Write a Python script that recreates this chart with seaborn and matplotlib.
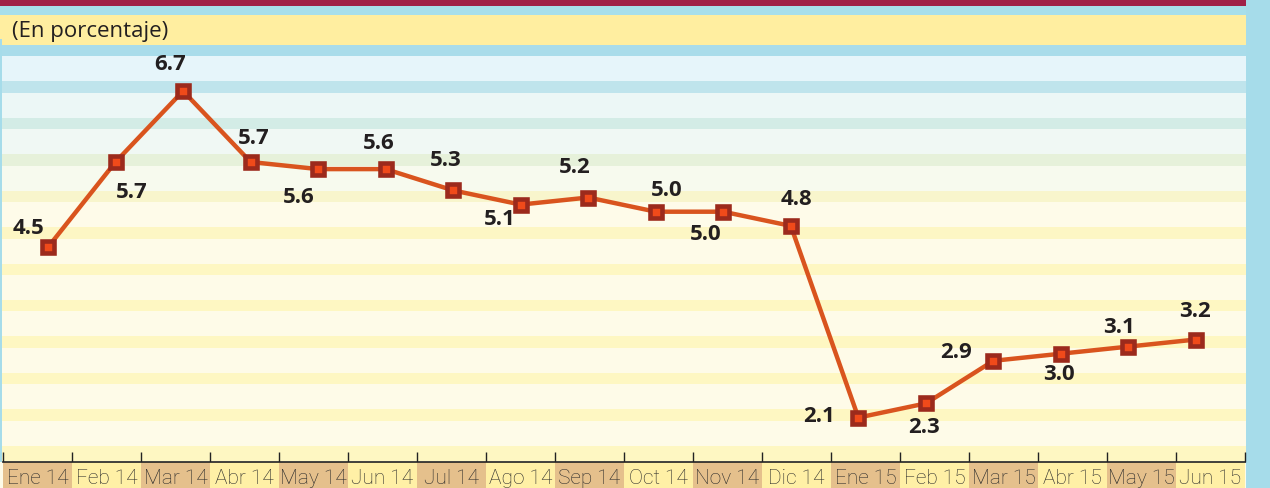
import matplotlib
matplotlib.use("Agg")
import matplotlib.pyplot as plt
import numpy as np
import pandas as pd
import seaborn as sns

# data
months = ["Ene 14", "Feb 14", "Mar 14", "Abr 14", "May 14", "Jun 14",
          "Jul 14", "Ago 14", "Sep 14", "Oct 14", "Nov 14", "Dic 14",
          "Ene 15", "Feb 15", "Mar 15", "Abr 15", "May 15", "Jun 15"]
values = [4.5, 5.7, 6.7, 5.7, 5.6, 5.6, 5.3, 5.1, 5.2, 5.0, 5.0, 4.8,
          2.1, 2.3, 2.9, 3.0, 3.1, 3.2]
subtitle = "(En porcentaje)"

# label offsets from each point, in pixels (dx right, dy down)
label_offsets = [(-20, -20), (16, 30), (-13, -27), (3, -24), (-19, 27), (-7, -27),
                 (-7, -31), (-21, 14), (-13, -31), (11, -22), (-18, 22), (6, -27),
                 (-39, -2), (-2, 23), (-37, -9), (-2, 20), (-9, -20), (-1, -29)]

W, H = 1270, 489
LINE = "#d9541e"
MFACE = "#f04a1a"
MEDGE = "#9c2a1c"
TXT = "#231f20"

sns.set_style("white")
fig = plt.figure(figsize=(W / 100, H / 100), dpi=100)

# ---- background decoration (pixel coordinates) ----
bg = fig.add_axes([0, 0, 1, 1])
bg.set_xlim(0, W)
bg.set_ylim(H, 0)
bg.axis("off")

def rect(x0, y0, x1, y1, c):
    bg.add_patch(plt.Rectangle((x0, y0), x1 - x0, y1 - y0, color=c, lw=0))

rect(0, 0, W, H, "#fefbe8")
rect(0, 0, 1246, 7, "#a02148")
rect(0, 7, 1246, 16, "#a8dfeb")
rect(0, 16, 1246, 46, "#ffeea0")
bg.text(12, 31, subtitle, fontsize=16, color=TXT, va="center", ha="left",
        fontfamily="Open Sans")

band_cols = ["#a9dcea", "#bfe4ec", "#d3ece6", "#e6f1da", "#f8f5cc", "#fdf6c4",
             "#fef7c2", "#fef7c2", "#fef7c2", "#fef7c2", "#fef7c2", "#fef7c2"]
light_cols = ["#e6f5fa", "#ecf7f6", "#f0f8f4", "#f7faee", "#fefbe9", "#fefbe8",
              "#fefbe8", "#fefbe8", "#fefbe8", "#fefbe8", "#fefbe8", "#fefbe8"]
for k in range(12):
    top = 45.8 + 36.45 * k
    bot = 462 if k == 11 else top + 11.5
    rect(0, top, 1246, bot, band_cols[k])
    if k < 11:
        rect(0, bot, 1246, 45.8 + 36.45 * (k + 1), light_cols[k])
rect(0, 40, 1.5, 463, "#a6dcea")
rect(1246, 0, W, H, "#a6dcea")

# ---- line chart ----
px_per = (1196 - 48) / 17.0
ax = fig.add_axes([0, 0, 1246 / W, 1])
ax.patch.set_alpha(0)
ax.set_xlim(-48 / px_per, (1246 - 48) / px_per)
ax.set_ylim(5.7 - (489 - 163) / 71.0, 5.7 + 163 / 71.0)
ax.axis("off")

df = pd.DataFrame({"idx": np.arange(len(months)), "valor": values})
sns.lineplot(data=df, x="idx", y="valor", ax=ax, color=LINE, linewidth=3.2,
             marker="s", markersize=8.6, markeredgewidth=3.3,
             markerfacecolor=MFACE, markeredgecolor=MEDGE, zorder=3)

for i, v in enumerate(values):
    dx, dy = label_offsets[i]
    ax.annotate(f"{v:.1f}", (i, v), xytext=(dx * 0.72, -dy * 0.72),
                textcoords="offset points", ha="center", va="center",
                fontsize=16, fontweight="bold", color=TXT,
                fontfamily="Open Sans")

# ---- month strip ----
st = fig.add_axes([3 / W, 0, 1242 / W, 26 / H])
cells = ["#e5c08c" if i % 2 == 0 else "#fff0a6" for i in range(len(months))]
st.bar(np.arange(len(months)), 1, width=1, align="edge", color=cells, lw=0)
st.set_xlim(0, len(months))
st.set_ylim(0, 1)
for i, m in enumerate(months):
    st.text(i + 0.5, 0.42, m, ha="center", va="center", fontsize=15,
            fontfamily="Roboto", fontweight="light", color="#2b2b2b")
for s in ["left", "right", "bottom"]:
    st.spines[s].set_visible(False)
st.spines["top"].set_color("#222222")
st.spines["top"].set_linewidth(1.2)
st.set_yticks([])
st.set_xticks(np.arange(len(months) + 1))
st.tick_params(axis="x", top=True, bottom=False, labeltop=False,
               labelbottom=False, direction="out", length=7.5, width=1,
               color="#222222")

fig.savefig("out.png", dpi=100)
